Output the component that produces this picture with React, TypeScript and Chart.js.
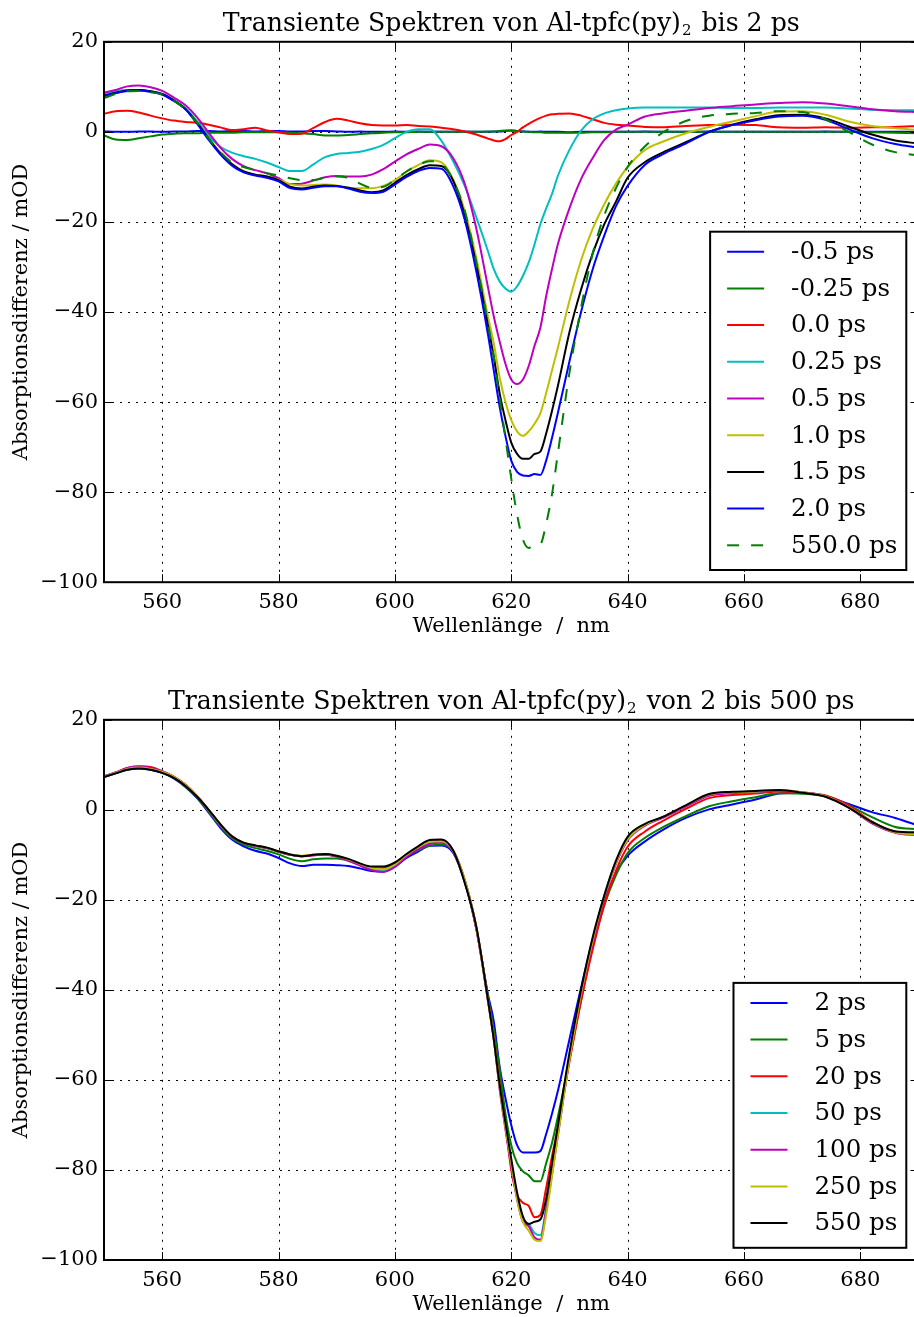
import React, { useEffect, useRef } from 'react';
import { Chart, registerables } from 'chart.js';

Chart.register(...registerables);

const SERIF = '"DejaVu Serif", "Liberation Serif", serif';

const WAVELENGTHS = [
  550, 552, 554, 556, 558, 560, 562, 564, 566, 568,
  570, 572, 574, 576, 578, 580, 582, 584, 586, 588,
  590, 592, 594, 596, 598, 600, 602, 604, 606, 608,
  610, 612, 614, 616,
  617, 618, 619, 620, 621, 622, 623, 624, 625, 626, 627, 628,
  630, 632, 634, 636, 638, 640,
  643, 646,
  650, 654, 658, 662, 666, 670, 674, 678, 682, 686, 690,
];

const X_TICKS = [560, 580, 600, 620, 640, 660, 680];
const Y_TICKS = [-100, -80, -60, -40, -20, 0, 20];

const TITLE_MAIN = 'Transiente Spektren von Al-tpfc(py)';
const TITLE_SUB = '2';
const TOP_TITLE_REST = ' bis 2 ps';
const BOTTOM_TITLE_REST = ' von 2 bis 500 ps';
const X_LABEL = 'Wellenl\u00e4nge  /  nm';
const Y_LABEL = 'Absorptionsdifferenz / mOD';

const C_B = '#0000ff';
const C_G = '#008000';
const C_R = '#ff0000';
const C_C = '#00bfbf';
const C_M = '#bf00bf';
const C_Y = '#bfbf00';
const C_K = '#000000';

// ---------- top panel (up to 2 ps) ----------
const TOP_LABELS = ['-0.5 ps', '-0.25 ps', '0.0 ps', '0.25 ps', '0.5 ps', '1.0 ps', '1.5 ps', '2.0 ps', '550.0 ps'];
const TOP_COLORS = [C_B, C_G, C_R, C_C, C_M, C_Y, C_K, C_B, C_G];
const TOP_DASHED = [false, false, false, false, false, false, false, false, true];

const top_m050 = [
  0.1, 0.0, 0.0, 0.1, 0.1, 0.0, 0.1, 0.1, 0.2, 0.2,
  0.1, 0.2, 0.2, 0.1, 0.2, 0.2, 0.1, 0.1, 0.2, 0.2,
  0.1, 0.0, 0.1, 0.0, 0.0, 0.1, 0.0, 0.1, 0.0, 0.0,
  0.0, 0.1, 0.0, 0.0,
  0.1, 0.1, 0.2, 0.3, 0.2, 0.1, 0.0, 0.0, 0.1, 0.0, 0.0, 0.0,
  -0.1, 0.0, 0.0, 0.0, 0.0, 0.0,
  0.1, 0.0,
  0.0, 0.1, 0.0, 0.0, 0.0, 0.0, 0.1, 0.0, 0.0, 0.0, 0.0,
];
const top_m025 = [
  -0.8, -1.7, -1.8, -1.4, -1.0, -0.6, -0.4, -0.3, -0.3, -0.2,
  -0.2, -0.2, -0.1, -0.1, -0.1, -0.1, -0.2, -0.3, -0.5, -0.8,
  -0.8, -0.7, -0.5, -0.3, -0.2, -0.1, -0.1, 0.0, 0.0, 0.0,
  0.0, 0.0, 0.0, 0.1,
  0.1, 0.2, 0.3, 0.3, 0.2, 0.1, 0.0, -0.1, -0.1, -0.2, -0.2, -0.2,
  -0.2, -0.2, -0.1, -0.1, 0.0, 0.0,
  0.0, 0.0,
  0.0, 0.0, 0.0, 0.0, 0.0, 0.0, 0.0, 0.0, -0.1, -0.2, -0.3,
];
const top_000 = [
  4.0, 4.6, 4.7, 4.3, 3.6, 3.0, 2.5, 2.2, 2.0, 1.6,
  1.0, 0.4, 0.6, 0.9, 0.3, -0.1, -0.5, -0.4, 0.9, 2.2,
  2.9, 2.5, 1.9, 1.5, 1.4, 1.4, 1.5, 1.3, 1.2, 0.9,
  0.6, 0.1, -0.6, -1.5,
  -1.9, -2.1, -1.6, -0.7, 0.0, 1.0, 1.8, 2.5, 3.1, 3.6, 3.9, 4.0,
  4.1, 3.6, 2.8, 2.0, 1.6, 1.4,
  1.1, 1.0,
  1.3, 1.5, 1.6, 1.5, 1.0, 0.9, 1.0, 0.9, 1.0, 1.1, 1.3,
];
const top_025 = [
  8.5, 9.0, 9.3, 9.3, 9.0, 8.4, 7.0, 5.2, 2.4, -0.9,
  -3.3, -4.6, -5.4, -6.0, -6.8, -7.8, -8.7, -8.7, -7.2, -5.6,
  -4.9, -4.7, -4.4, -3.8, -2.9, -1.4, 0.0, 0.6, 0.6, -2.0,
  -6.5, -12.0, -19.0, -26.5,
  -30.5, -33.2, -34.8, -35.5, -34.3, -32.0, -29.0, -25.0, -20.5, -17.0, -13.8, -9.8,
  -4.0, 0.3, 2.8, 4.1, 4.8, 5.2,
  5.4, 5.4,
  5.4, 5.4, 5.3, 5.3, 5.4, 5.4, 5.4, 5.2, 4.9, 4.8, 4.8,
];
const top_050 = [
  8.7, 9.3, 10.1, 10.3, 9.9, 9.1, 7.6, 5.9, 3.2, -0.2,
  -3.5, -6.0, -7.6, -8.5, -9.2, -10.3, -11.6, -11.5, -10.8, -10.1,
  -9.8, -9.9, -9.9, -9.5, -8.3, -6.6, -5.0, -3.8, -2.8, -3.2,
  -5.8, -11.5, -21.5, -34.5,
  -41.0, -46.5, -51.5, -55.0, -56.0, -55.0, -52.0, -47.5, -43.5, -36.5, -30.5, -25.0,
  -17.0, -10.5, -5.8, -1.8, 0.5, 1.6,
  3.4, 4.1,
  4.7, 5.3, 5.7, 6.1, 6.4, 6.6, 6.3, 5.7, 5.0, 4.6, 4.4,
];
const top_100 = [
  8.0, 8.6, 9.1, 9.2, 8.9, 8.3, 6.9, 5.0, 2.0, -1.5,
  -4.5, -7.1, -8.7, -9.5, -9.9, -10.6, -11.6, -11.9, -11.8, -11.7,
  -11.9, -12.4, -12.5, -12.5, -12.0, -10.7, -8.8, -7.4, -6.3, -6.8,
  -10.5, -17.5, -28.0, -41.0,
  -47.0, -54.5, -60.0, -64.0, -66.5, -67.5, -66.5, -64.8, -62.5, -58.0, -53.0, -48.0,
  -37.5, -28.5, -21.5, -16.0, -11.5, -7.8,
  -4.0, -2.2,
  -0.3, 1.1, 2.3, 3.5, 4.5, 4.6, 3.8, 2.3, 1.3, 0.8, 0.4,
];
const top_150 = [
  8.0, 8.7, 9.2, 9.3, 9.0, 8.4, 7.0, 5.1, 2.0, -1.5,
  -4.8, -7.2, -8.8, -9.5, -9.9, -10.7, -12.2, -12.6, -12.2, -11.9,
  -12.0, -12.4, -13.0, -13.4, -13.0, -11.3, -9.6, -8.3, -7.4, -7.6,
  -10.8, -18.5, -29.5, -43.0,
  -50.0, -58.0, -64.0, -69.0, -71.5, -72.6, -72.6, -71.5, -71.0, -67.0, -62.0, -56.5,
  -44.5, -35.0, -27.0, -20.5, -15.5, -10.2,
  -6.7, -4.6,
  -2.3, 0.0, 1.6, 2.8, 3.7, 3.8, 3.0, 1.2, -0.6, -1.9, -2.6,
];
const top_200 = [
  8.0, 8.6, 9.1, 9.2, 8.9, 8.3, 6.9, 5.0, 1.8, -1.8,
  -5.0, -7.5, -9.0, -9.7, -10.2, -11.0, -12.5, -12.8, -12.4, -12.1,
  -12.1, -12.6, -13.3, -13.6, -13.3, -11.7, -10.0, -8.7, -8.0, -8.2,
  -12.0, -19.5, -31.0, -45.0,
  -53.0, -61.0, -67.5, -73.0, -75.5, -76.3, -76.4, -76.0, -76.2, -73.0, -68.0, -62.5,
  -51.0, -40.0, -30.5, -23.0, -16.5, -12.0,
  -7.3, -5.0,
  -2.6, 0.0, 1.5, 2.6, 3.4, 3.6, 2.7, 0.6, -1.4, -2.7, -3.5,
];
const top_550 = [
  7.5, 8.4, 9.0, 9.1, 8.8, 8.3, 6.9, 5.0, 2.0, -1.5,
  -4.5, -6.8, -7.8, -8.5, -9.2, -9.7, -10.3, -10.7, -10.7, -10.2,
  -9.9, -10.2, -11.5, -12.4, -12.2, -10.7, -8.8, -7.4, -6.5, -7.0,
  -10.8, -17.5, -29.0, -42.5,
  -50.0, -59.0, -68.0, -77.0, -85.0, -90.5, -92.4, -91.6, -91.5, -87.0, -80.5, -71.5,
  -53.5, -39.0, -27.0, -18.5, -12.5, -7.8,
  -3.2, -0.2,
  2.4, 3.6, 4.0, 4.2, 4.6, 4.4, 2.8, 0.0, -2.8, -4.5, -5.2,
];

// ---------- bottom panel (2 to 500 ps) ----------
const BOTTOM_LABELS = ['2 ps', '5 ps', '20 ps', '50 ps', '100 ps', '250 ps', '550 ps'];
const BOTTOM_COLORS = [C_B, C_G, C_R, C_C, C_M, C_Y, C_K];
const BOTTOM_DASHED = [false, false, false, false, false, false, false];

const bot_2 = [
  7.3, 8.1, 8.9, 9.2, 8.9, 8.2, 7.0, 5.1, 2.6, -0.6,
  -4.0, -6.6, -8.1, -9.1, -9.7, -10.7, -11.9, -12.5, -12.2, -12.2,
  -12.3, -12.5, -13.0, -13.6, -13.7, -12.6, -10.7, -9.3, -8.0, -7.9,
  -9.5, -16.0, -26.5, -41.0,
  -47.0, -57.0, -64.0, -70.0, -74.5, -76.1, -76.1, -76.1, -75.8, -72.0, -67.5, -62.5,
  -51.0, -39.5, -29.0, -20.5, -14.0, -10.2,
  -7.0, -4.5,
  -1.8, 0.1, 1.2, 2.3, 3.6, 3.8, 3.1, 1.3, -0.5, -1.8, -3.5,
];
const bot_5 = [
  7.3, 8.2, 9.0, 9.3, 9.0, 8.3, 7.1, 5.2, 2.7, -0.4,
  -3.7, -6.3, -7.7, -8.5, -9.1, -9.9, -10.9, -11.4, -11.0, -10.8,
  -10.8, -11.3, -12.2, -13.1, -13.3, -12.2, -10.3, -9.0, -8.0, -7.7,
  -9.2, -15.8, -26.3, -41.5,
  -49.0, -57.5, -67.5, -74.5, -78.5, -80.3, -81.2, -82.5, -82.5, -78.5, -74.0, -68.3,
  -55.5, -42.3, -30.5, -21.2, -14.5, -9.6,
  -6.2, -3.9,
  -1.4, 0.8, 1.9, 2.8, 3.7, 3.6, 3.0, 1.0, -1.6, -3.8, -4.3,
];
const bot_20 = [
  7.4, 8.3, 9.3, 9.7, 9.5, 8.6, 7.4, 5.6, 3.1, 0.0,
  -3.3, -5.9, -7.4, -8.0, -8.5, -9.3, -10.0, -10.3, -10.1, -9.9,
  -10.3, -11.1, -12.2, -13.0, -13.0, -11.8, -9.9, -8.2, -6.9, -6.8,
  -9.0, -15.5, -26.0, -42.0,
  -50.5, -60.5, -70.0, -80.0, -85.5, -87.3, -88.0, -90.5, -90.0, -84.0, -77.0, -70.5,
  -56.0, -42.5, -31.0, -21.0, -13.5, -8.2,
  -4.8, -2.5,
  0.2, 2.6, 3.3, 3.6, 4.1, 3.8, 3.2, 1.0, -2.6, -4.8, -5.2,
];
const bot_50 = [
  7.4, 8.2, 9.1, 9.4, 9.1, 8.4, 7.2, 5.4, 3.0, -0.1,
  -3.3, -6.0, -7.4, -8.0, -8.5, -9.3, -10.0, -10.3, -10.0, -9.9,
  -10.3, -11.1, -12.2, -13.1, -13.4, -12.3, -10.2, -8.6, -7.3, -7.1,
  -9.1, -15.7, -26.3, -42.4,
  -51.0, -61.5, -70.5, -78.5, -86.0, -91.0, -92.0, -94.0, -94.5, -88.5, -80.5, -72.0,
  -55.0, -40.5, -29.0, -19.0, -11.5, -6.6,
  -3.4, -1.7,
  0.9, 3.3, 3.8, 4.0, 4.3, 3.9, 3.0, 0.6, -2.9, -5.0, -5.4,
];
const bot_100 = [
  7.5, 8.3, 9.3, 9.6, 9.3, 8.5, 7.3, 5.5, 3.0, -0.1,
  -3.4, -6.0, -7.4, -8.0, -8.5, -9.3, -10.0, -10.3, -10.1, -10.0,
  -10.4, -11.3, -12.4, -13.4, -13.8, -12.7, -10.4, -8.8, -7.6, -7.3,
  -9.2, -15.8, -26.5, -42.5,
  -51.0, -62.0, -71.0, -79.0, -86.5, -91.5, -92.5, -95.0, -95.5, -89.0, -81.0, -72.5,
  -55.5, -41.0, -29.5, -19.5, -12.0, -6.8,
  -3.5, -1.8,
  0.7, 3.1, 3.7, 4.0, 4.3, 3.9, 3.0, 0.5, -3.0, -5.1, -5.7,
];
const bot_250 = [
  7.4, 8.2, 9.1, 9.4, 9.1, 8.4, 7.3, 5.5, 3.0, 0.0,
  -3.3, -5.9, -7.3, -7.9, -8.4, -9.2, -9.9, -10.2, -9.9, -9.8,
  -10.2, -11.0, -12.0, -12.9, -13.2, -12.1, -10.0, -8.3, -7.1, -7.0,
  -9.1, -15.6, -26.2, -42.3,
  -51.0, -61.5, -70.5, -78.5, -86.5, -91.5, -93.5, -95.5, -95.8, -90.0, -81.5, -72.5,
  -55.5, -40.8, -29.0, -19.2, -11.7, -6.6,
  -3.3, -1.6,
  1.0, 3.4, 3.9, 4.1, 4.4, 3.9, 3.0, 0.6, -2.8, -5.0, -5.5,
];
const bot_550 = [
  7.3, 8.1, 8.9, 9.2, 8.9, 8.2, 7.1, 5.3, 2.9, 0.0,
  -3.2, -5.9, -7.3, -7.9, -8.4, -9.2, -9.9, -10.3, -10.0, -9.8,
  -10.2, -10.9, -11.9, -12.6, -12.6, -11.7, -9.8, -8.1, -6.7, -6.6,
  -9.0, -16.2, -26.0, -42.2,
  -51.0, -61.0, -69.5, -77.5, -85.0, -90.3, -92.0, -91.5, -91.0, -86.5, -78.5, -70.3,
  -54.0, -40.0, -28.3, -19.0, -11.3, -6.0,
  -3.1, -1.6,
  1.0, 3.5, 4.0, 4.2, 4.4, 3.8, 2.9, 0.5, -2.7, -4.8, -5.0,
];

const TOP_SERIES = [top_m050, top_m025, top_000, top_025, top_050, top_100, top_150, top_200, top_550];
const BOTTOM_SERIES = [bot_2, bot_5, bot_20, bot_50, bot_100, bot_250, bot_550];

const CANVAS_W = 922;

const axesPlugin = {
  id: 'mplAxes',
  beforeDatasetsDraw(chart: any) {
    const { ctx, chartArea: a, scales } = chart;
    const x = scales.x;
    const y = scales.y;
    ctx.save();
    ctx.strokeStyle = '#000';
    ctx.lineWidth = 1;
    ctx.setLineDash([2, 6]);
    for (const t of x.ticks) {
      const px = Math.round(x.getPixelForValue(t.value)) + 0.5;
      ctx.beginPath();
      ctx.moveTo(px, a.top);
      ctx.lineTo(px, a.bottom);
      ctx.stroke();
    }
    for (const t of y.ticks) {
      if (t.value <= -100 || t.value >= 20) continue;
      const py = Math.round(y.getPixelForValue(t.value)) + 0.5;
      ctx.beginPath();
      ctx.moveTo(a.left, py);
      ctx.lineTo(a.right, py);
      ctx.stroke();
    }
    ctx.restore();
  },
  afterDatasetsDraw(chart: any) {
    const { ctx, chartArea: a, scales } = chart;
    const x = scales.x;
    const y = scales.y;
    const L = 8;
    ctx.save();
    ctx.setLineDash([]);
    ctx.strokeStyle = '#000';
    ctx.lineWidth = 1;
    for (const t of x.ticks) {
      const px = Math.round(x.getPixelForValue(t.value)) + 0.5;
      ctx.beginPath();
      ctx.moveTo(px, a.bottom);
      ctx.lineTo(px, a.bottom - L);
      ctx.moveTo(px, a.top);
      ctx.lineTo(px, a.top + L);
      ctx.stroke();
    }
    for (const t of y.ticks) {
      const py = Math.round(y.getPixelForValue(t.value)) + 0.5;
      ctx.beginPath();
      ctx.moveTo(a.left, py);
      ctx.lineTo(a.left + L, py);
      ctx.moveTo(a.right, py);
      ctx.lineTo(a.right - L, py);
      ctx.stroke();
    }
    ctx.lineWidth = 2;
    ctx.strokeRect(a.left, a.top, a.right - a.left, a.bottom - a.top);
    ctx.restore();
  },
};

const titlePlugin = {
  id: 'mplTitle',
  afterDraw(chart: any, _args: any, opts: any) {
    const { ctx, chartArea: a } = chart;
    const mainFont = `25.2px ${SERIF}`;
    const subFont = `15px ${SERIF}`;
    ctx.save();
    ctx.fillStyle = '#000';
    ctx.textAlign = 'left';
    ctx.textBaseline = 'alphabetic';
    ctx.font = mainFont;
    const w1 = ctx.measureText(opts.main).width;
    const w3 = ctx.measureText(opts.rest).width;
    ctx.font = subFont;
    const w2 = ctx.measureText(opts.sub).width;
    const gapA = 1;
    const gapB = 2;
    const total = w1 + gapA + w2 + gapB + w3;
    const cx = (a.left + a.right) / 2;
    let x = cx - total / 2;
    const base = a.top - 11.2;
    ctx.font = mainFont;
    ctx.fillText(opts.main, x, base);
    x += w1 + gapA;
    ctx.font = subFont;
    ctx.fillText(opts.sub, x, base + 4.5);
    x += w2 + gapB;
    ctx.font = mainFont;
    ctx.fillText(opts.rest, x, base);
    ctx.restore();
  },
};

const legendPlugin = {
  id: 'mplLegend',
  afterDraw(chart: any) {
    const { ctx, chartArea: a } = chart;
    const ds = chart.data.datasets;
    ctx.save();
    ctx.font = `24.5px ${SERIF}`;
    let maxW = 0;
    ds.forEach((d: any) => {
      maxW = Math.max(maxW, ctx.measureText(d.label).width);
    });
    const rowH = 36.7;
    const w = maxW + 90;
    const h = ds.length * rowH + 8;
    const right = a.right - 12.2;
    const bottom = a.bottom - 12.2;
    const left = right - w;
    const top = bottom - h;
    ctx.setLineDash([]);
    ctx.fillStyle = '#ffffff';
    ctx.fillRect(left, top, w, h);
    ctx.lineWidth = 2;
    ctx.strokeStyle = '#000';
    ctx.strokeRect(left, top, w, h);
    ds.forEach((d: any, i: number) => {
      const cy = top + 20 + i * rowH;
      ctx.beginPath();
      ctx.strokeStyle = d.borderColor;
      ctx.lineWidth = 2;
      ctx.setLineDash(d.borderDash && d.borderDash.length ? d.borderDash : []);
      ctx.moveTo(left + 17, cy);
      ctx.lineTo(left + 54, cy);
      ctx.stroke();
      ctx.setLineDash([]);
      ctx.fillStyle = '#000';
      ctx.textBaseline = 'middle';
      ctx.textAlign = 'left';
      ctx.fillText(d.label, left + 81, cy + 1);
    });
    ctx.restore();
  },
};

type PanelProps = {
  titleRest: string;
  labels: string[];
  colors: string[];
  dashed: boolean[];
  series: number[][];
  top: number;
  height: number;
  padBottom: number;
};

function ChartPanel(props: PanelProps) {
  const ref = useRef<HTMLCanvasElement>(null);
  useEffect(() => {
    const canvas = ref.current;
    if (!canvas) return;
    const n = props.series.length;
    const datasets = props.series.map((s, i) => ({
      label: props.labels[i],
      data: WAVELENGTHS.map((x, j) => ({ x, y: s[j] })),
      borderColor: props.colors[i],
      backgroundColor: props.colors[i],
      borderWidth: 2,
      borderDash: props.dashed[i] ? [12, 12] : [],
      pointRadius: 0,
      pointHoverRadius: 0,
      fill: false,
      cubicInterpolationMode: 'monotone' as const,
      order: n - i,
    }));
    const tickFont = { family: SERIF, size: 21, weight: 'normal' as const };
    const chart = new Chart(canvas, {
      type: 'line',
      data: { datasets },
      options: {
        responsive: false,
        animation: false,
        devicePixelRatio: 1,
        events: [],
        layout: { padding: { left: 0, right: 3.5, top: 41.8, bottom: props.padBottom } },
        plugins: {
          legend: { display: false },
          tooltip: { enabled: false },
          title: { display: false },
          mplTitle: { main: TITLE_MAIN, sub: TITLE_SUB, rest: props.titleRest },
        },
        scales: {
          x: {
            type: 'linear',
            min: 550,
            max: 690,
            afterBuildTicks: (s: any) => {
              s.ticks = X_TICKS.map((v) => ({ value: v }));
            },
            afterFit: (s: any) => {
              s.height = 57;
            },
            grid: { display: false, drawTicks: false },
            border: { display: false },
            ticks: {
              color: '#000',
              font: tickFont,
              padding: 8,
              maxRotation: 0,
              autoSkip: false,
              callback: (v: any) => String(v),
            },
            title: {
              display: true,
              text: X_LABEL,
              color: '#000',
              font: tickFont,
              padding: { top: 0, bottom: 0 },
            },
          },
          y: {
            type: 'linear',
            min: -100,
            max: 20,
            afterBuildTicks: (s: any) => {
              s.ticks = Y_TICKS.map((v) => ({ value: v }));
            },
            afterFit: (s: any) => {
              s.width = 104;
            },
            grid: { display: false, drawTicks: false },
            border: { display: false },
            ticks: {
              color: '#000',
              font: tickFont,
              padding: 6,
              autoSkip: false,
              callback: (v: any) => (Number(v) < 0 ? '\u2212' + Math.abs(Number(v)) : String(v)),
            },
            title: {
              display: true,
              text: Y_LABEL,
              color: '#000',
              font: tickFont,
              padding: { top: 9, bottom: 0 },
            },
          },
        },
      } as any,
      plugins: [axesPlugin, titlePlugin, legendPlugin],
    });
    return () => chart.destroy();
  }, []);
  return (
    <canvas
      ref={ref}
      width={CANVAS_W}
      height={props.height}
      style={{ position: 'absolute', left: 0, top: props.top, width: CANVAS_W, height: props.height, display: 'block' }}
    />
  );
}

export default function App() {
  return (
    <div style={{ position: 'absolute', left: 0, top: 0, width: 914, height: 1317, overflow: 'hidden', background: '#fff' }}>
      <ChartPanel
        titleRest={TOP_TITLE_REST}
        labels={TOP_LABELS}
        colors={TOP_COLORS}
        dashed={TOP_DASHED}
        series={TOP_SERIES}
        top={0}
        height={678}
        padBottom={38.8}
      />
      <ChartPanel
        titleRest={BOTTOM_TITLE_REST}
        labels={BOTTOM_LABELS}
        colors={BOTTOM_COLORS}
        dashed={BOTTOM_DASHED}
        series={BOTTOM_SERIES}
        top={678}
        height={639}
        padBottom={0}
      />
    </div>
  );
}
